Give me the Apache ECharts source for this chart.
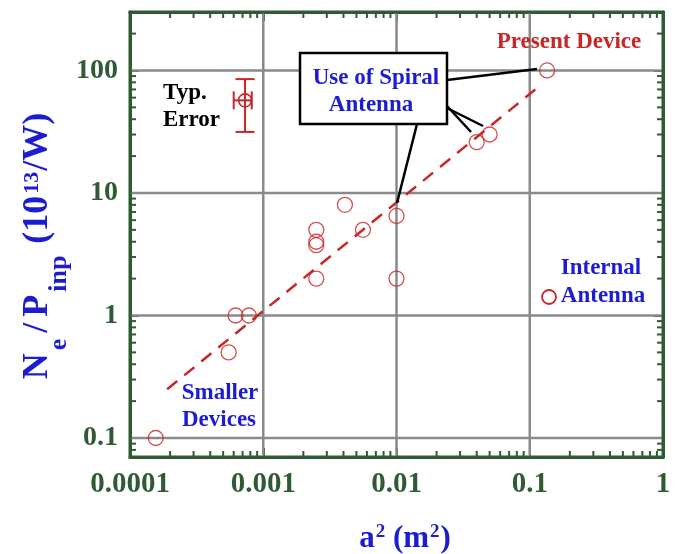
<!DOCTYPE html>
<html>
<head>
<meta charset="utf-8">
<script src="https://cdn.jsdelivr.net/npm/echarts@6/dist/echarts.min.js"></script>
<style>
html, body { margin: 0; padding: 0; background: #ffffff; }
#chart { width: 682px; height: 554px; }
</style>
</head>
<body>
<div id="chart"></div>
<script>
// Plasma density per input power vs. squared device radius
const deviceArea = [1.56e-4, 5.5e-4, 6.2e-4, 7.8e-4, 2.5e-3, 2.5e-3, 2.5e-3, 2.5e-3, 4.1e-3, 5.6e-3, 0.01, 0.01, 0.040, 0.050, 0.135];
const densityPerPower = [0.1, 0.5, 1.0, 1.0, 2.0, 3.75, 4.0, 5.0, 8.0, 5.0, 6.5, 2.0, 26, 30, 100];

// scaling trend line (two end points)
const trendArea = [1.9e-4, 0.11];
const trendDensity = [0.25, 70];

// typical error bar
const errorCenter = [7.3e-4, 57];
const errorAreaRange = [6.0e-4, 8.2e-4];
const errorDensityRange = [31.5, 85];

// axis ticks
const xTickValues = [0.0001, 0.001, 0.01, 0.1, 1];
const xTickLabels = ['0.0001', '0.001', '0.01', '0.1', '1'];
const yTickValues = [0.1, 1, 10, 100];
const yTickLabels = ['0.1', '1', '10', '100'];

const X_MIN = 0.0001, X_MAX = 1, Y_MIN = 0.07, Y_MAX = 300;

const GREEN = '#2f5a34';
const RED = '#c62828';
const BLUE = '#1c1cd2';
const GRAY = '#8a8a8a';
const SERIF = '"Liberation Serif", "Times New Roman", serif';
const MAJOR_LEN = 9, MINOR_LEN = 6;

// minor tick positions (2..9 within each decade)
const xMinor = [], yMinor = [];
[1e-4, 1e-3, 1e-2, 1e-1].forEach(d => { for (let k = 2; k <= 9; k++) xMinor.push(d * k); });
[0.01, 0.1, 1, 10, 100].forEach(d => {
  for (let k = 2; k <= 9; k++) { const v = d * k; if (v > Y_MIN * 1.001 && v < Y_MAX * 0.999) yMinor.push(v); }
});

function decadeFormatter(values, labels) {
  return function (v) {
    for (let i = 0; i < values.length; i++) {
      if (Math.abs(Math.log10(v) - Math.log10(values[i])) < 1e-6) return labels[i];
    }
    return '';
  };
}

// Lay out a title made of runs with sub/superscripts along one baseline.
// Each run: [text, fontSize, baselineShift, gapBefore]
const measureCtx = document.createElement('canvas').getContext('2d');
function textWidth(text, size) {
  measureCtx.font = 'bold ' + size + 'px ' + SERIF;
  return measureCtx.measureText(text).width;
}
function titleGroup(runs, cx, baseline, rotation, color) {
  let total = 0;
  const placed = runs.map(r => {
    total += r[3] || 0;
    const item = { text: r[0], size: r[1], shift: r[2], x: total };
    total += textWidth(r[0], r[1]);
    return item;
  });
  return {
    type: 'group', x: rotation ? baseline : cx, y: rotation ? cx : baseline, rotation: rotation || 0, z: 12,
    children: placed.map(p => ({
      type: 'text',
      x: p.x - total / 2,
      y: p.shift - 0.3375 * p.size,
      style: { text: p.text, font: 'bold ' + p.size + 'px ' + SERIF, fill: color, align: 'left', verticalAlign: 'middle' }
    }))
  };
}

const axisBase = {
  type: 'log',
  logBase: 10,
  axisLine: { show: true, onZero: false, lineStyle: { color: GREEN, width: 3 } },
  axisTick: { show: true, inside: true, length: MAJOR_LEN, lineStyle: { color: GREEN, width: 2 } },
  splitLine: { show: false },
  minorTick: { show: false },
  minorSplitLine: { show: false }
};
const labelBase = { color: GREEN, fontFamily: SERIF, fontWeight: 'bold', fontSize: 28 };

const lineStyle = { stroke: GREEN, lineWidth: 2 };
const gridStyle = { stroke: GRAY, lineWidth: 2.5 };

const chart = echarts.init(document.getElementById('chart'), null, { renderer: 'canvas' });

chart.setOption({
  animation: false,
  backgroundColor: '#ffffff',
  grid: {
    left: 130, right: 19, top: 12, bottom: 97,
    show: true, borderColor: GREEN, borderWidth: 3,
    outerBoundsMode: 'none', containLabel: false
  },
  xAxis: [
    Object.assign({}, axisBase, {
      min: X_MIN, max: X_MAX, position: 'bottom',
      axisLabel: Object.assign({}, labelBase, { fontSize: 29, margin: 13, formatter: decadeFormatter(xTickValues, xTickLabels) })
    }),
    Object.assign({}, axisBase, {
      min: X_MIN, max: X_MAX, position: 'top', axisLabel: { show: false }
    })
  ],
  yAxis: [
    Object.assign({}, axisBase, {
      min: Y_MIN, max: Y_MAX, position: 'left',
      axisLabel: Object.assign({}, labelBase, { margin: 12, formatter: decadeFormatter(yTickValues, yTickLabels) })
    }),
    Object.assign({}, axisBase, {
      min: Y_MIN, max: Y_MAX, position: 'right', axisLabel: { show: false }
    })
  ],
  series: [
    // vertical grid lines at decades
    {
      type: 'custom', z: 1, silent: true,
      data: xTickValues.filter(v => v > X_MIN && v < X_MAX).map(v => [v, Y_MIN]),
      renderItem: function (params, api) {
        const b = api.coord([api.value(0), Y_MIN]);
        const t = api.coord([api.value(0), Y_MAX]);
        return { type: 'line', shape: { x1: b[0], y1: b[1] - 1.5, x2: t[0], y2: t[1] + 1.5 }, style: gridStyle };
      }
    },
    // horizontal grid lines at decades
    {
      type: 'custom', z: 1, silent: true,
      data: yTickValues.map(v => [X_MIN, v]),
      renderItem: function (params, api) {
        const l = api.coord([X_MIN, api.value(1)]);
        const r = api.coord([X_MAX, api.value(1)]);
        return { type: 'line', shape: { x1: l[0] + 1.5, y1: l[1], x2: r[0] - 1.5, y2: r[1] }, style: gridStyle };
      }
    },
    // minor ticks on bottom and top
    {
      type: 'custom', z: 3, silent: true,
      data: xMinor.map(v => [v, Y_MIN]),
      renderItem: function (params, api) {
        const b = api.coord([api.value(0), Y_MIN]);
        const t = api.coord([api.value(0), Y_MAX]);
        return { type: 'group', children: [
          { type: 'line', shape: { x1: b[0], y1: b[1], x2: b[0], y2: b[1] - MINOR_LEN }, style: lineStyle },
          { type: 'line', shape: { x1: t[0], y1: t[1], x2: t[0], y2: t[1] + MINOR_LEN }, style: lineStyle }
        ] };
      }
    },
    // minor ticks on left and right
    {
      type: 'custom', z: 3, silent: true,
      data: yMinor.map(v => [X_MIN, v]),
      renderItem: function (params, api) {
        const l = api.coord([X_MIN, api.value(1)]);
        const r = api.coord([X_MAX, api.value(1)]);
        return { type: 'group', children: [
          { type: 'line', shape: { x1: l[0], y1: l[1], x2: l[0] + MINOR_LEN, y2: l[1] }, style: lineStyle },
          { type: 'line', shape: { x1: r[0], y1: r[1], x2: r[0] - MINOR_LEN, y2: r[1] }, style: lineStyle }
        ] };
      }
    },
    // trend line
    {
      type: 'line', z: 4, silent: true, symbol: 'none',
      data: trendArea.map((x, i) => [x, trendDensity[i]]),
      lineStyle: { color: RED, width: 2.5, type: [13, 9] }
    },
    // devices
    {
      type: 'scatter', z: 5, silent: true,
      symbol: 'circle', symbolSize: 15,
      data: deviceArea.map((x, i) => [x, densityPerPower[i]]),
      itemStyle: { color: 'rgba(0,0,0,0)', borderColor: RED, borderWidth: 1.3 }
    },
    // typical error bar
    {
      type: 'custom', z: 5, silent: true,
      data: [[errorCenter[0], errorCenter[1], errorAreaRange[0], errorAreaRange[1], errorDensityRange[0], errorDensityRange[1]]],
      renderItem: function (params, api) {
        const c = api.coord([api.value(0), api.value(1)]);
        const xl = api.coord([api.value(2), api.value(1)]);
        const xh = api.coord([api.value(3), api.value(1)]);
        const yl = api.coord([api.value(0), api.value(4)]);
        const yh = api.coord([api.value(0), api.value(5)]);
        const st = { stroke: RED, lineWidth: 2, fill: 'none' };
        const capW = 9.5, capH = 9;
        return { type: 'group', children: [
          { type: 'line', shape: { x1: yl[0], y1: yl[1], x2: yh[0], y2: yh[1] }, style: st },
          { type: 'line', shape: { x1: yl[0] - capW, y1: yl[1], x2: yl[0] + capW, y2: yl[1] }, style: st },
          { type: 'line', shape: { x1: yh[0] - capW, y1: yh[1], x2: yh[0] + capW, y2: yh[1] }, style: st },
          { type: 'line', shape: { x1: xl[0], y1: xl[1], x2: xh[0], y2: xh[1] }, style: st },
          { type: 'line', shape: { x1: xl[0], y1: xl[1] - capH, x2: xl[0], y2: xl[1] + capH }, style: st },
          { type: 'line', shape: { x1: xh[0], y1: xh[1] - capH, x2: xh[0], y2: xh[1] + capH }, style: st },
          { type: 'circle', shape: { cx: c[0], cy: c[1], r: 6.5 }, style: { stroke: RED, lineWidth: 1.6, fill: 'none' } }
        ] };
      }
    }
  ],
  graphic: [
    // leader lines from the annotation box
    { type: 'line', z: 10, shape: { x1: 447, y1: 80, x2: 537, y2: 69 }, style: { stroke: '#000', lineWidth: 2.5 } },
    { type: 'line', z: 10, shape: { x1: 447, y1: 106, x2: 471, y2: 132 }, style: { stroke: '#000', lineWidth: 2.5 } },
    { type: 'line', z: 10, shape: { x1: 447, y1: 108, x2: 483, y2: 126 }, style: { stroke: '#000', lineWidth: 2.5 } },
    { type: 'line', z: 10, shape: { x1: 417, y1: 124, x2: 397, y2: 203 }, style: { stroke: '#000', lineWidth: 2.5 } },
    // annotation box
    { type: 'rect', z: 11, shape: { x: 300, y: 53, width: 147, height: 71 }, style: { fill: '#fff', stroke: '#000', lineWidth: 2.5 } },
    { type: 'text', z: 12, x: 376, y: 78, style: { text: 'Use of Spiral', font: 'bold 23px ' + SERIF, fill: BLUE, align: 'center', verticalAlign: 'middle' } },
    { type: 'text', z: 12, x: 371, y: 105, style: { text: 'Antenna', font: 'bold 23px ' + SERIF, fill: BLUE, align: 'center', verticalAlign: 'middle' } },
    // other labels
    { type: 'text', z: 12, x: 569, y: 42, style: { text: 'Present Device', font: 'bold 23px ' + SERIF, fill: RED, align: 'center', verticalAlign: 'middle' } },
    { type: 'text', z: 12, x: 163, y: 93, style: { text: 'Typ.', font: 'bold 23px ' + SERIF, fill: '#000', align: 'left', verticalAlign: 'middle' } },
    { type: 'text', z: 12, x: 163, y: 120, style: { text: 'Error', font: 'bold 23px ' + SERIF, fill: '#000', align: 'left', verticalAlign: 'middle' } },
    { type: 'text', z: 12, x: 601, y: 268, style: { text: 'Internal', font: 'bold 23px ' + SERIF, fill: BLUE, align: 'center', verticalAlign: 'middle' } },
    { type: 'text', z: 12, x: 603, y: 296, style: { text: 'Antenna', font: 'bold 23px ' + SERIF, fill: BLUE, align: 'center', verticalAlign: 'middle' } },
    { type: 'circle', z: 12, shape: { cx: 549, cy: 297, r: 7 }, style: { fill: 'none', stroke: RED, lineWidth: 1.8 } },
    { type: 'text', z: 12, x: 220, y: 393, style: { text: 'Smaller', font: 'bold 23px ' + SERIF, fill: BLUE, align: 'center', verticalAlign: 'middle' } },
    { type: 'text', z: 12, x: 219, y: 420, style: { text: 'Devices', font: 'bold 23px ' + SERIF, fill: BLUE, align: 'center', verticalAlign: 'middle' } },
    // axis titles
    titleGroup([
      ['a', 31, 0, 0], ['2', 19, -10, 1], [' (m', 31, 0, 0], ['2', 19, -10, 1], [')', 31, 0, 1]
    ], 405, 549, 0, BLUE),
    titleGroup([
      ['N', 36, 0, 0], ['e', 26, 18, 3], ['/', 36, 0, 6], ['P', 36, 0, 6], ['inp', 26, 18, 3],
      ['(10', 36, 0, 12], ['13', 22, -10, 2], ['/W)', 36, 0, 1]
    ], 246, 50, Math.PI / 2, BLUE)
  ]
});
</script>
</body>
</html>
